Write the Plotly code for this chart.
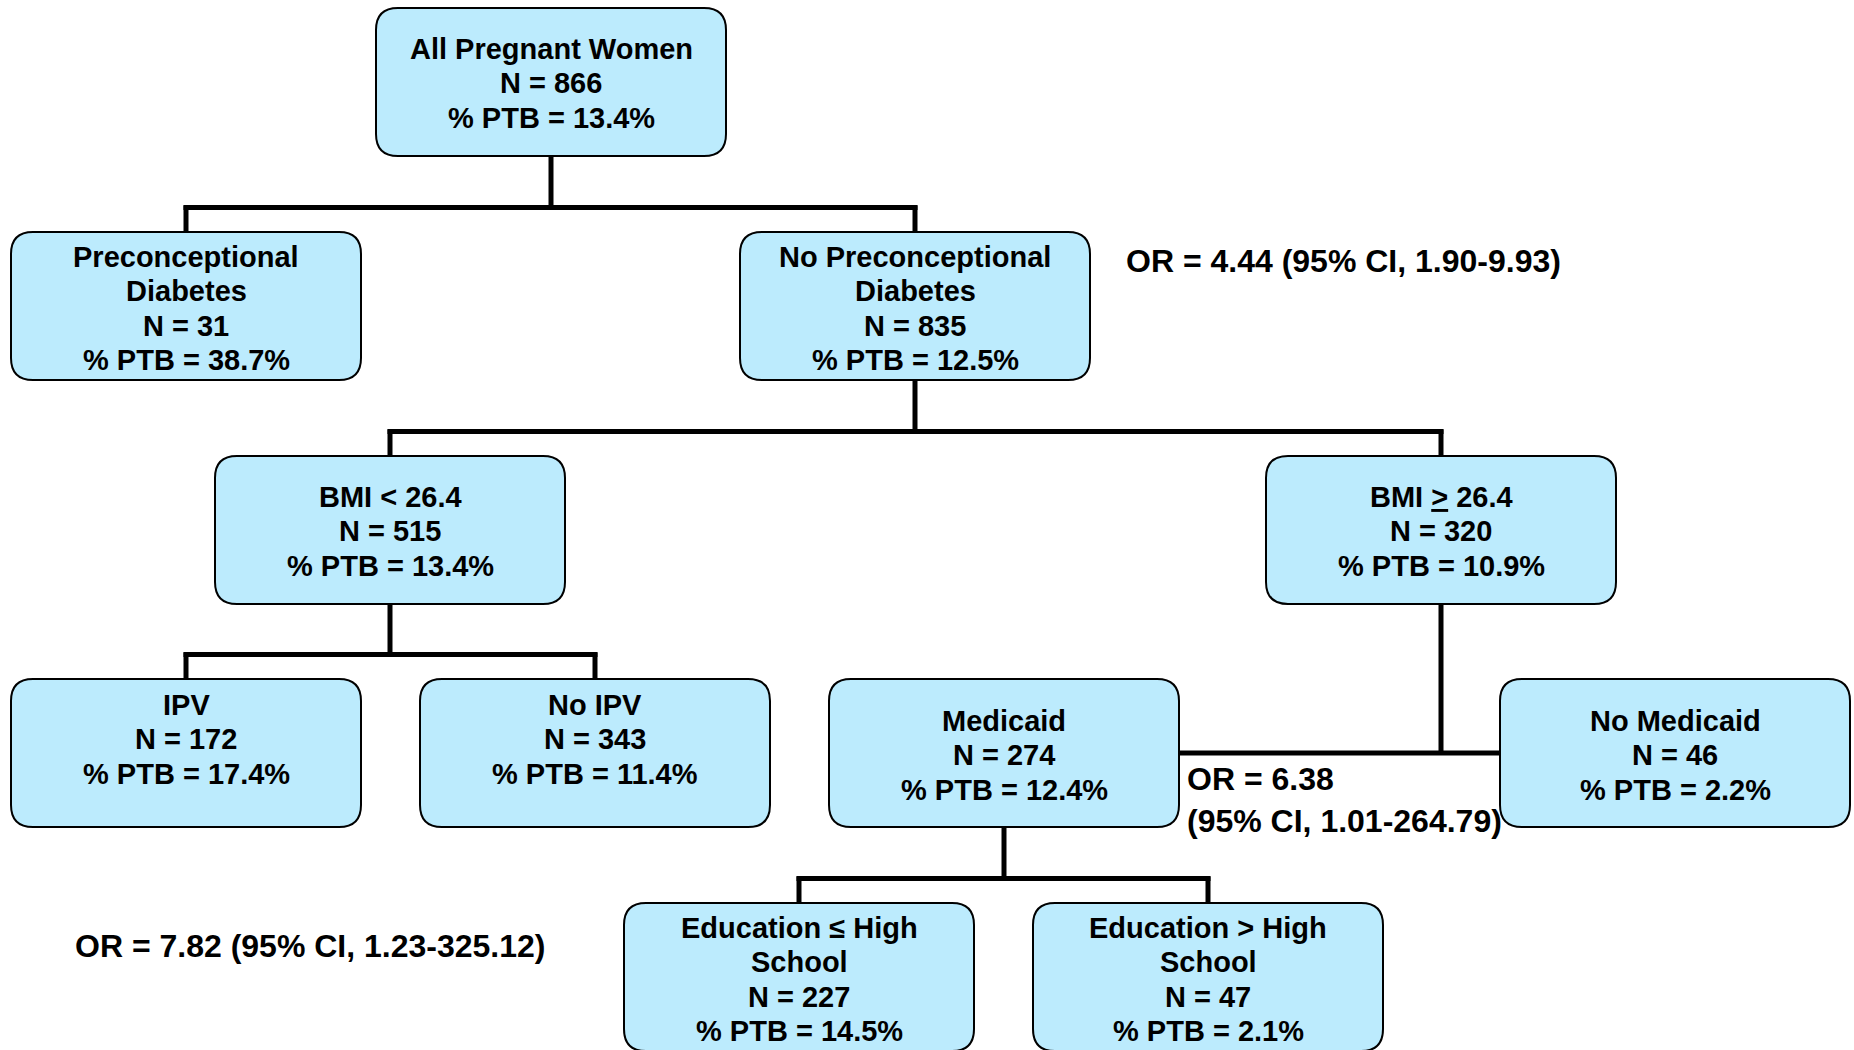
import plotly.graph_objects as go

# node contents
node_ids = ["root", "precon", "noprecon", "bmi_lo", "bmi_hi", "ipv", "noipv",
            "medicaid", "nomedicaid", "edu_lo", "edu_hi"]
node_titles = [
    ["All Pregnant Women"],
    ["Preconceptional", "Diabetes"],
    ["No Preconceptional", "Diabetes"],
    ["BMI < 26.4"],
    ["BMI <u>></u> 26.4"],
    ["IPV"],
    ["No IPV"],
    ["Medicaid"],
    ["No Medicaid"],
    ["Education ≤ High", "School"],
    ["Education > High", "School"],
]
node_n = [866, 31, 835, 515, 320, 172, 343, 274, 46, 227, 47]
node_ptb = [13.4, 38.7, 12.5, 13.4, 10.9, 17.4, 11.4, 12.4, 2.2, 14.5, 2.1]

# tree structure: parent -> children
splits = {
    "root": ["precon", "noprecon"],
    "noprecon": ["bmi_lo", "bmi_hi"],
    "bmi_lo": ["ipv", "noipv"],
    "medicaid": ["edu_lo", "edu_hi"],
}
side_split = ("bmi_hi", ["medicaid", "nomedicaid"])

odds_ratios = [
    "OR = 4.44 (95% CI, 1.90-9.93)",
    "OR = 6.38<br>(95% CI, 1.01-264.79)",
    "OR = 7.82 (95% CI, 1.23-325.12)",
]

# layout (screen pixels, top-left origin)
W, H = 1854, 1050
BOX_W, BOX_H, RADIUS = 350, 148, 22
box_left = [376, 11, 740, 215, 1266, 11, 420, 829, 1500, 624, 1033]
box_top = [8, 232, 232, 456, 456, 679, 679, 679, 679, 903, 903]
text_offset = [41, 25, 25, 41, 41, 26, 26, 42, 42, 25, 25]
LINE_GAP = 34.3
or_pos = [(1124, 261), (1185, 800), (73, 946)]

FONT = "Liberation Sans, Arial, sans-serif"
FILL = "#BCEBFD"

fig = go.Figure()
pos = {nid: (box_left[i], box_top[i]) for i, nid in enumerate(node_ids)}


def rounded_path(x0, y0, w, h, r):
    x1, y1 = x0 + w, y0 + h
    return (f"M {x0+r},{y0} L {x1-r},{y0} Q {x1},{y0} {x1},{y0+r} "
            f"L {x1},{y1-r} Q {x1},{y1} {x1-r},{y1} L {x0+r},{y1} "
            f"Q {x0},{y1} {x0},{y1-r} L {x0},{y0+r} Q {x0},{y0} {x0+r},{y0} Z")


def add_line(xs, ys):
    fig.add_trace(go.Scatter(x=xs, y=ys, mode="lines", hoverinfo="skip",
                             line=dict(color="black", width=5), showlegend=False))


# elbow connectors
for parent, kids in splits.items():
    px_, py_ = pos[parent]
    cx = px_ + BOX_W / 2
    elbow = pos[kids[0]][1] - 24.5
    add_line([cx, cx], [py_ + BOX_H, elbow + 2])
    kx = [pos[k][0] + BOX_W / 2 for k in kids]
    add_line([min(kx) - 2.5, max(kx) + 2.5], [elbow, elbow])
    for k in kids:
        add_line([pos[k][0] + BOX_W / 2] * 2, [elbow - 2, pos[k][1]])

parent, (left_kid, right_kid) = side_split
cx = pos[parent][0] + BOX_W / 2
mid_y = pos[left_kid][1] + BOX_H / 2
add_line([cx, cx], [pos[parent][1] + BOX_H, mid_y])
add_line([pos[left_kid][0] + BOX_W, pos[right_kid][0]], [mid_y, mid_y])

# boxes and their text
for i, nid in enumerate(node_ids):
    x0, y0 = box_left[i], box_top[i]
    fig.add_shape(type="path", path=rounded_path(x0, y0, BOX_W, BOX_H, RADIUS),
                  xref="x", yref="y", fillcolor=FILL,
                  line=dict(color="black", width=2), layer="below")
    lines = node_titles[i] + [f"N = {node_n[i]}", f"% PTB = {node_ptb[i]}%"]
    for j, txt in enumerate(lines):
        fig.add_annotation(x=x0 + BOX_W / 2, y=y0 + text_offset[i] + j * LINE_GAP,
                           text=txt, showarrow=False, xanchor="center", yanchor="middle",
                           font=dict(family=FONT, size=29, color="black", weight="bold"))

for txt, (x, y) in zip(odds_ratios, or_pos):
    fig.add_annotation(x=x, y=y, text=txt, showarrow=False, xanchor="left",
                       yanchor="middle", align="left",
                       font=dict(family=FONT, size=32, color="black", weight="bold"))

fig.update_xaxes(range=[0, W], visible=False, fixedrange=True)
fig.update_yaxes(range=[H, 0], visible=False, fixedrange=True)
fig.update_layout(width=W, height=H, margin=dict(l=0, r=0, t=0, b=0),
                  plot_bgcolor="white", paper_bgcolor="white", showlegend=False)

# drop the page's default body margin so the figure fills the window exactly
fig.write_html("out.html", config={"displayModeBar": False},
               post_script="document.body.style.margin='0';document.body.style.overflow='hidden';")
